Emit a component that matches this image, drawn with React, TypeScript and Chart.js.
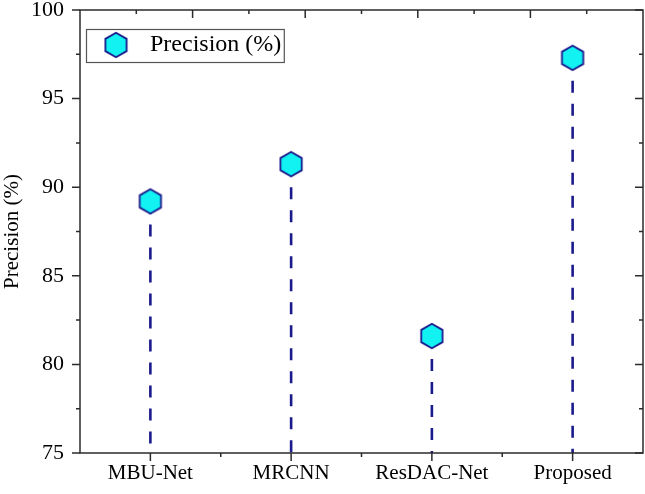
import React, { useEffect, useRef } from 'react';
import { Chart, registerables } from 'chart.js';

Chart.register(...registerables);

// ---- data ----
const categories = ['MBU-Net', 'MRCNN', 'ResDAC-Net', 'Proposed'];
const precision = [89.2, 91.3, 81.6, 97.3];
const seriesLabel = 'Precision (%)';
const yAxisTitle = 'Precision (%)';
const yMin = 75;
const yMax = 100;
const yStep = 5;

// ---- styles ----
const FONT = "'Liberation Serif', 'Times New Roman', serif";
const NAVY = '#1a1a8c';
const CYAN = '#12f2f2';
const FRAME = '#2b2b2b';

function makeHexagon(w: number, h: number, cx: number, cy: number, r: number) {
  const c = document.createElement('canvas');
  c.width = w;
  c.height = h;
  const ctx = c.getContext('2d') as CanvasRenderingContext2D;
  ctx.beginPath();
  for (let i = 0; i < 6; i++) {
    const a = -Math.PI / 2 + (i * Math.PI) / 3;
    const x = cx + r * Math.cos(a);
    const y = cy + r * Math.sin(a);
    if (i === 0) ctx.moveTo(x, y);
    else ctx.lineTo(x, y);
  }
  ctx.closePath();
  ctx.fillStyle = CYAN;
  ctx.fill();
  ctx.lineWidth = 1.8;
  ctx.strokeStyle = NAVY;
  ctx.stroke();
  return c;
}

const framePlugin = {
  id: 'frameTicks',
  afterDatasetsDraw(chart: any) {
    const { ctx, chartArea } = chart;
    const { left, right, top, bottom } = chartArea;
    const ys = chart.scales.y;
    const xs = chart.scales.x;
    const xt = chart.scales.xTop;
    ctx.save();
    ctx.strokeStyle = FRAME;
    ctx.lineWidth = 1.5;
    ctx.strokeRect(left, top, right - left, bottom - top);
    ctx.beginPath();
    // left & right ticks
    for (let v = yMin; v <= yMax + 1e-9; v += yStep / 2) {
      const y = ys.getPixelForValue(v);
      const major = Math.abs(v % yStep) < 1e-9;
      const len = major ? 8 : 4;
      ctx.moveTo(left - len, y);
      ctx.lineTo(left, y);
      ctx.moveTo(right, y);
      ctx.lineTo(right - len, y);
    }
    // bottom ticks
    for (let i = 0; i < categories.length; i++) {
      const x = xs.getPixelForValue(i);
      ctx.moveTo(x, bottom);
      ctx.lineTo(x, bottom + 8);
      if (i < categories.length - 1) {
        const xm = xs.getPixelForValue(i + 0.5);
        ctx.moveTo(xm, bottom);
        ctx.lineTo(xm, bottom + 4);
      }
    }
    // top ticks
    for (let k = 1; k < 10; k++) {
      const x = xt.getPixelForValue(k);
      const len = k % 2 === 0 ? 8 : 4;
      ctx.moveTo(x, top);
      ctx.lineTo(x, top + len);
    }
    ctx.stroke();

    // legend frame
    const lg = chart.legend;
    if (lg && lg.legendHitBoxes && lg.legendHitBoxes[0]) {
      const hb = lg.legendHitBoxes[0];
      ctx.strokeStyle = '#555';
      ctx.lineWidth = 1.2;
      const l = hb.left - 26.5;
      const t = hb.top - 3.5;
      const r = hb.left + hb.width + 3;
      const b = hb.top + hb.height + 5.5;
      ctx.strokeRect(l, t, r - l, b - t);
    }
    ctx.restore();
  },
};

const zeroPad = (s: any) => {
  s.paddingLeft = 0;
  s.paddingRight = 0;
  s.paddingTop = 0;
  s.paddingBottom = 0;
};

export default function App() {
  const ref = useRef<HTMLCanvasElement | null>(null);

  useEffect(() => {
    if (!ref.current) return;
    const hex = makeHexagon(28, 28, 14, 14, 12.3);
    const legendHex = makeHexagon(44, 28, 12.5, 14, 12.3);

    const dropLines = categories.map((c, i) => ({
      type: 'line' as const,
      label: 'drop-' + c,
      data: [
        { x: c, y: precision[i] },
        { x: c, y: yMin },
      ],
      xAxisID: 'x',
      yAxisID: 'y',
      borderColor: NAVY,
      borderWidth: 2.6,
      borderDash: [12, 11],
      pointRadius: 0,
      fill: false,
      order: 2,
    }));

    const chart = new Chart(ref.current, {
      type: 'line',
      data: {
        labels: categories,
        datasets: [
          {
            label: seriesLabel,
            data: precision,
            xAxisID: 'x',
            yAxisID: 'y',
            showLine: false,
            pointStyle: hex as any,
            pointRadius: 1,
            pointHoverRadius: 1,
            pointBorderWidth: 0,
            backgroundColor: CYAN,
            borderColor: NAVY,
            borderWidth: 0,
            order: 0,
          } as any,
          ...(dropLines as any[]),
        ],
      },
      plugins: [framePlugin],
      options: {
        responsive: false,
        animation: false,
        events: [],
        layout: { padding: { top: 10, right: 2, left: 0, bottom: 0 } },
        plugins: {
          tooltip: { enabled: false },
          legend: {
            position: 'chartArea',
            align: 'start',
            labels: {
              usePointStyle: true,
              pointStyleWidth: 25,
              padding: 33,
              color: '#000',
              font: { family: FONT, size: 24 },
              generateLabels: (ch: any) => {
                const items = (Chart.defaults.plugins.legend.labels as any).generateLabels(ch);
                return items
                  .filter((it: any) => it.datasetIndex === 0)
                  .map((it: any) => ({ ...it, pointStyle: legendHex }));
              },
            },
          } as any,
        },
        scales: {
          x: {
            type: 'category',
            offset: true,
            grid: { display: false, drawTicks: false },
            border: { display: false },
            ticks: {
              color: '#000',
              padding: 8,
              font: { family: FONT, size: 21 },
              maxRotation: 0,
              autoSkip: false,
            },
            afterFit: (s: any) => {
              s.height = 41;
              zeroPad(s);
            },
          },
          xTop: {
            type: 'linear',
            position: 'top',
            display: false,
            min: 0,
            max: 10,
            afterFit: (s: any) => {
              zeroPad(s);
            },
          },
          y: {
            type: 'linear',
            min: yMin,
            max: yMax,
            grid: { display: false, drawTicks: false },
            border: { display: false },
            ticks: {
              stepSize: yStep,
              color: '#000',
              padding: 16,
              font: { family: FONT, size: 22, lineHeight: 0.9 },
            },
            title: {
              display: true,
              text: yAxisTitle,
              color: '#000',
              font: { family: FONT, size: 21 },
              padding: { top: 0, bottom: 0 },
            },
            afterFit: (s: any) => {
              s.width = 80;
              zeroPad(s);
            },
          },
        } as any,
      },
    } as any);

    return () => chart.destroy();
  }, []);

  return (
    <div style={{ position: 'absolute', left: 0, top: 0, width: 645, height: 494, background: '#fff' }}>
      <canvas ref={ref} width={645} height={494} />
    </div>
  );
}
